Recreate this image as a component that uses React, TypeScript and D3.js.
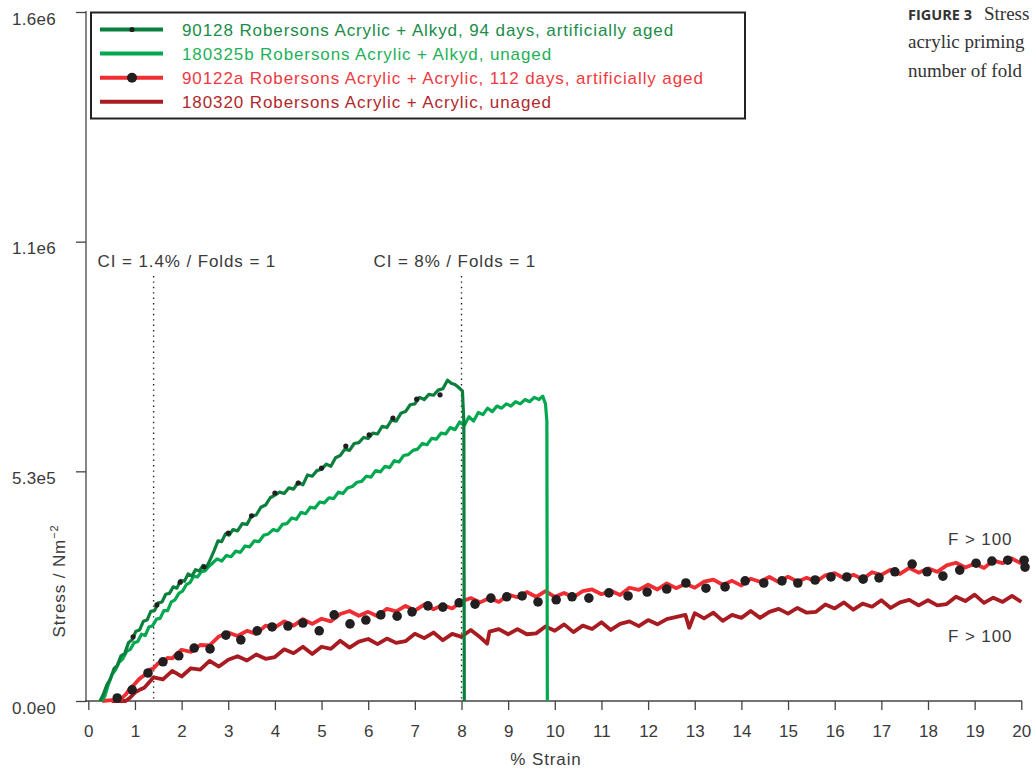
import { useEffect, useRef } from "react";
import * as d3 from "d3";

// strain in %, stress in units of 1e5 N/m^2
const agedAlkyd: [number, number][] = [
  [0.25, 0], [0.32, 0.15], [0.4, 0.38], [0.47, 0.5], [0.55, 0.75], [0.62, 0.82], [0.7, 1.05], [0.78, 1.1],
  [0.86, 1.35], [0.94, 1.42], [1.02, 1.62], [1.1, 1.65], [1.18, 1.85], [1.26, 1.88], [1.34, 2.08], [1.42, 2.1],
  [1.5, 2.28], [1.58, 2.3], [1.66, 2.48], [1.74, 2.5], [1.82, 2.65], [1.9, 2.62], [1.98, 2.8], [2.06, 2.78],
  [2.14, 2.95], [2.22, 2.9], [2.3, 3.05], [2.38, 3.02], [2.46, 3.15], [2.54, 3.12], [2.62, 3.3], [2.7, 3.5],
  [2.78, 3.72], [2.86, 3.7], [2.94, 3.88], [3.02, 3.85], [3.1, 3.98], [3.2, 3.95], [3.3, 4.12], [3.4, 4.1],
  [3.5, 4.3], [3.6, 4.32], [3.7, 4.5], [3.8, 4.55], [3.9, 4.72], [4.0, 4.78], [4.1, 4.85], [4.2, 4.82],
  [4.3, 4.95], [4.4, 4.92], [4.5, 5.08], [4.6, 5.02], [4.7, 5.25], [4.8, 5.22], [4.9, 5.35], [5.0, 5.38],
  [5.1, 5.5], [5.2, 5.45], [5.3, 5.65], [5.4, 5.7], [5.5, 5.85], [5.6, 5.82], [5.7, 5.98], [5.8, 6.0],
  [5.9, 6.12], [6.0, 6.1], [6.1, 6.22], [6.2, 6.2], [6.3, 6.38], [6.4, 6.35], [6.5, 6.52], [6.6, 6.5],
  [6.7, 6.68], [6.8, 6.72], [6.9, 6.88], [7.0, 6.9], [7.1, 7.05], [7.2, 7.0], [7.3, 7.12], [7.4, 7.1],
  [7.5, 7.22], [7.6, 7.25], [7.7, 7.45], [7.78, 7.38], [7.86, 7.35], [7.94, 7.28], [8.02, 7.2], [8.05, 6.5],
  [8.06, 0],
];
const agedAlkydDots: [number, number][] = [
  [0.96, 1.49], [1.47, 2.23], [1.97, 2.76], [2.48, 3.11], [3.0, 3.9], [3.5, 4.3], [4.0, 4.83],
  [4.5, 5.06], [5.0, 5.41], [5.52, 5.92], [6.02, 6.18], [6.53, 6.57], [7.04, 7.01], [7.54, 7.11],
];
const unagedAlkyd: [number, number][] = [
  [0.28, 0], [0.35, 0.1], [0.42, 0.35], [0.5, 0.6], [0.58, 0.72], [0.66, 0.9], [0.74, 0.98], [0.82, 1.15],
  [0.9, 1.2], [0.98, 1.35], [1.06, 1.38], [1.14, 1.55], [1.22, 1.52], [1.3, 1.72], [1.38, 1.75], [1.46, 1.9],
  [1.54, 1.92], [1.62, 2.1], [1.7, 2.1], [1.78, 2.3], [1.86, 2.35], [1.94, 2.5], [2.02, 2.55], [2.1, 2.7],
  [2.18, 2.75], [2.26, 2.9], [2.34, 2.88], [2.42, 3.0], [2.5, 3.02], [2.58, 3.12], [2.66, 3.2], [2.76, 3.3],
  [2.86, 3.25], [2.96, 3.38], [3.06, 3.35], [3.16, 3.48], [3.26, 3.45], [3.36, 3.6], [3.46, 3.58], [3.56, 3.72],
  [3.66, 3.7], [3.76, 3.85], [3.86, 3.88], [3.96, 3.98], [4.06, 3.95], [4.16, 4.1], [4.26, 4.12], [4.36, 4.25],
  [4.46, 4.22], [4.56, 4.38], [4.66, 4.35], [4.76, 4.5], [4.86, 4.48], [4.96, 4.62], [5.06, 4.6], [5.16, 4.72],
  [5.26, 4.7], [5.36, 4.85], [5.46, 4.82], [5.56, 4.95], [5.66, 4.98], [5.76, 5.08], [5.86, 5.1], [5.96, 5.22],
  [6.06, 5.2], [6.16, 5.35], [6.26, 5.32], [6.36, 5.45], [6.46, 5.42], [6.56, 5.58], [6.66, 5.55], [6.76, 5.7],
  [6.86, 5.72], [6.96, 5.82], [7.06, 5.85], [7.16, 5.98], [7.26, 5.95], [7.36, 6.1], [7.46, 6.08], [7.56, 6.22],
  [7.66, 6.2], [7.76, 6.35], [7.86, 6.3], [7.96, 6.48], [8.06, 6.4], [8.16, 6.6], [8.26, 6.5], [8.36, 6.7],
  [8.46, 6.65], [8.56, 6.8], [8.66, 6.72], [8.76, 6.85], [8.86, 6.8], [8.96, 6.9], [9.06, 6.85], [9.16, 6.95],
  [9.26, 6.9], [9.36, 7.0], [9.46, 6.95], [9.56, 7.05], [9.66, 7.0], [9.74, 7.08], [9.8, 6.9], [9.83, 6.5],
  [9.84, 0],
];
const agedAcrylic: [number, number][] = [
  [0.3, 0], [0.5, 0.02], [0.7, 0.04], [0.8, 0.15], [0.9, 0.3], [1.0, 0.4], [1.1, 0.52], [1.2, 0.6],
  [1.3, 0.72], [1.4, 0.76], [1.5, 0.88], [1.6, 0.9], [1.7, 1.0], [1.8, 0.99], [1.9, 1.1],
  [2.0, 1.19], [2.2, 1.14], [2.4, 1.3], [2.6, 1.29], [2.8, 1.5], [3.0, 1.59], [3.2, 1.51], [3.4, 1.63],
  [3.6, 1.56], [3.8, 1.75], [4.0, 1.71], [4.2, 1.85], [4.4, 1.75], [4.6, 1.9], [4.8, 1.79], [5.0, 1.91],
  [5.2, 1.85], [5.4, 2.02], [5.6, 2.09], [5.8, 1.98], [6.0, 2.07], [6.2, 1.97], [6.4, 2.14], [6.6, 2.08],
  [6.8, 2.21], [7.0, 2.1], [7.2, 2.24], [7.4, 2.13], [7.6, 2.23], [7.8, 2.15], [8.0, 2.31], [8.2, 2.39],
  [8.4, 2.29], [8.6, 2.39], [8.8, 2.3], [9.0, 2.47], [9.2, 2.41], [9.4, 2.53], [9.6, 2.42], [9.8, 2.55],
  [10.0, 2.42], [10.2, 2.51], [10.4, 2.41], [10.6, 2.55], [10.8, 2.59], [11.0, 2.48], [11.2, 2.56], [11.4, 2.46],
  [11.6, 2.63], [11.8, 2.58], [12.0, 2.7], [12.2, 2.59], [12.4, 2.73], [12.6, 2.62], [12.8, 2.72], [13.0, 2.63],
  [13.2, 2.77], [13.4, 2.82], [13.6, 2.7], [13.8, 2.79], [14.0, 2.68], [14.2, 2.84], [14.4, 2.77], [14.6, 2.88],
  [14.8, 2.76], [15.0, 2.89], [15.2, 2.77], [15.4, 2.86], [15.6, 2.77], [15.8, 2.92], [16.0, 2.97], [16.2, 2.85],
  [16.4, 2.93], [16.6, 2.83], [16.8, 2.99], [17.0, 2.93], [17.2, 3.05], [17.4, 2.95], [17.6, 3.09], [17.8, 2.98],
  [18.0, 3.08], [18.2, 3.0], [18.4, 3.15], [18.6, 3.21], [18.8, 3.1], [19.0, 3.19], [19.2, 3.09], [19.4, 3.26],
  [19.6, 3.2], [19.8, 3.31], [20.0, 3.19],
];
const agedAcrylicDots: [number, number][] = [
  [0.62, 0.07], [0.94, 0.26], [1.28, 0.65], [1.6, 0.91], [1.94, 1.05], [2.27, 1.23], [2.61, 1.21], [2.95, 1.53],
  [3.27, 1.42], [3.62, 1.63], [3.94, 1.72], [4.28, 1.74], [4.6, 1.81], [4.95, 1.63], [5.27, 2.0], [5.61, 1.79],
  [5.95, 1.88], [6.27, 2.0], [6.62, 1.97], [6.94, 2.07], [7.28, 2.21], [7.6, 2.18], [7.95, 2.28], [8.29, 2.25],
  [8.63, 2.39], [8.97, 2.42], [9.3, 2.44], [9.64, 2.3], [10.03, 2.35], [10.37, 2.42], [10.73, 2.39], [11.16, 2.51],
  [11.57, 2.44], [11.98, 2.53], [12.4, 2.6], [12.81, 2.74], [13.24, 2.62], [13.65, 2.65], [14.08, 2.79], [14.48, 2.74],
  [14.87, 2.79], [15.21, 2.74], [15.58, 2.81], [15.92, 2.88], [16.26, 2.88], [16.61, 2.83], [16.95, 2.86], [17.29, 3.0],
  [17.66, 3.18], [17.98, 3.0], [18.32, 2.9], [18.68, 3.04], [19.03, 3.2], [19.37, 3.25], [19.71, 3.27], [20.06, 3.27],
  [20.08, 3.11],
];
const unagedAcrylic: [number, number][] = [
  [0.5, 0], [0.8, 0], [0.9, 0.08], [1.0, 0.2], [1.1, 0.26], [1.2, 0.31], [1.4, 0.55], [1.6, 0.5],
  [1.8, 0.7], [2.0, 0.57], [2.2, 0.76], [2.4, 0.73], [2.6, 0.93], [2.8, 0.8], [3.0, 0.96], [3.2, 1.04],
  [3.4, 0.94], [3.6, 1.08], [3.8, 0.98], [4.0, 1.02], [4.2, 1.2], [4.4, 1.11], [4.6, 1.26], [4.8, 1.09],
  [5.0, 1.26], [5.2, 1.21], [5.4, 1.4], [5.6, 1.24], [5.8, 1.38], [6.0, 1.44], [6.2, 1.32], [6.4, 1.45],
  [6.6, 1.35], [6.8, 1.39], [7.0, 1.56], [7.2, 1.46], [7.4, 1.59], [7.6, 1.41], [7.8, 1.56], [8.0, 1.49],
  [8.2, 1.65], [8.4, 1.48], [8.55, 1.33], [8.6, 1.61], [8.8, 1.67], [9.0, 1.55], [9.2, 1.67], [9.4, 1.55],
  [9.6, 1.57], [9.8, 1.73], [10.0, 1.63], [10.2, 1.78], [10.4, 1.6], [10.6, 1.75], [10.8, 1.67], [11.0, 1.83],
  [11.2, 1.65], [11.4, 1.79], [11.6, 1.85], [11.8, 1.74], [12.0, 1.88], [12.2, 1.78], [12.4, 1.9], [12.8, 2.0],
  [12.88, 1.7], [13.0, 2.04], [13.2, 1.92], [13.4, 2.05], [13.6, 1.86], [13.8, 2.0], [14.0, 1.93], [14.2, 2.09],
  [14.4, 1.93], [14.6, 2.07], [14.8, 2.14], [15.0, 2.03], [15.2, 2.16], [15.4, 2.05], [15.6, 2.07], [15.8, 2.24],
  [16.0, 2.15], [16.2, 2.29], [16.4, 2.12], [16.6, 2.26], [16.8, 2.19], [17.0, 2.34], [17.2, 2.16], [17.4, 2.29],
  [17.6, 2.35], [17.8, 2.22], [18.0, 2.34], [18.2, 2.22], [18.4, 2.25], [18.6, 2.42], [18.8, 2.32], [19.0, 2.47],
  [19.2, 2.28], [19.4, 2.4], [19.6, 2.3], [19.8, 2.44], [20.0, 2.3],
];

const xTicks = [0, 1, 2, 3, 4, 5, 6, 7, 8, 9, 10, 11, 12, 13, 14, 15, 16, 17, 18, 19, 20];
const yTicks = [0, 16 / 3, 32 / 3, 16];
const yTickLabels = ["0.0e0", "5.3e5", "1.1e6", "1.6e6"];

const crackLines = [
  { strain: 1.4, label: "CI = 1.4% / Folds = 1" },
  { strain: 8, label: "CI = 8% / Folds = 1" },
];

const legendItems = [
  { label: "90128 Robersons Acrylic + Alkyd, 94 days, artificially aged", color: "#0b7f3c", text: "#1a8c48", dot: 2.6 },
  { label: "180325b Robersons Acrylic + Alkyd, unaged", color: "#00a94f", text: "#1fb159", dot: 0 },
  { label: "90122a Robersons Acrylic + Acrylic, 112 days, artificially aged", color: "#ee2e33", text: "#ee3a40", dot: 5 },
  { label: "180320 Robersons Acrylic + Acrylic, unaged", color: "#a81c21", text: "#b0292e", dot: 0 },
];

const FONT = "'Liberation Sans', Arial, Helvetica, sans-serif";
const SERIF = "'Liberation Serif', 'DejaVu Serif', serif";
const INK = "#3a3a3a";
const TRACK = 0.9; // the original sans face runs wider than Arial

export default function App() {
  const svgRef = useRef<SVGSVGElement>(null);

  useEffect(() => {
    const svg = d3.select(svgRef.current);
    svg.selectAll("*").remove();

    const x = d3.scaleLinear().domain([0, 20]).range([88.3, 1021.3]);
    const y = d3.scaleLinear().domain([0, 16]).range([701, 12]);

    const label = (sel: any, track = TRACK) =>
      sel.attr("font-family", FONT).attr("font-size", 17).attr("fill", INK)
        .attr("letter-spacing", track);

    // ---------- AXES ----------
    const ax = svg.append("g").attr("transform", `translate(0,701)`);
    ax.call(d3.axisBottom(x).tickValues(xTicks).tickSize(9).tickSizeOuter(0).tickFormat(d3.format("d")));
    ax.select(".domain").remove();
    ax.selectAll("line").attr("stroke", "#444").attr("stroke-width", 1.3);
    label(ax.selectAll("text").attr("y", 36).attr("dy", 0), 0);
    svg.append("line")
      .attr("x1", 85).attr("x2", 1022).attr("y1", 701).attr("y2", 701)
      .attr("stroke", "#444").attr("stroke-width", 1.3);

    const ay = svg.append("g").attr("transform", `translate(86,0)`);
    ay.call(d3.axisLeft(y).tickValues(yTicks).tickSize(10).tickSizeOuter(0)
      .tickFormat((_d, i) => yTickLabels[i]));
    ay.select(".domain").remove();
    ay.selectAll("line").attr("stroke", "#444").attr("stroke-width", 1.3);
    label(ay.selectAll("text").attr("x", -30).attr("y", 12).attr("dy", 0), 0.3);
    svg.append("line")
      .attr("x1", 86).attr("x2", 86).attr("y1", 11).attr("y2", 702)
      .attr("stroke", "#444").attr("stroke-width", 1.3);

    label(svg.append("text")
      .attr("x", 546).attr("y", 765).attr("text-anchor", "middle"))
      .text("% Strain");

    const yl = label(svg.append("text")
      .attr("transform", "translate(65,581) rotate(-90)")
      .attr("text-anchor", "middle"));
    yl.append("tspan").text("Stress / Nm");
    yl.append("tspan").attr("dy", -7).attr("font-size", 11).text("−2");

    // ---------- CRACK INITIATION MARKERS ----------
    const labelShift: Record<number, number> = { 1.4: -56, 8: -88 };
    crackLines.forEach(c => {
      svg.append("line")
        .attr("x1", x(c.strain)).attr("x2", x(c.strain))
        .attr("y1", 276).attr("y2", 700)
        .attr("stroke", "#222").attr("stroke-width", 1.4)
        .attr("stroke-dasharray", "1.4 4");
      label(svg.append("text")
        .attr("x", x(c.strain) + labelShift[c.strain])
        .attr("y", 267))
        .text(c.label);
    });

    // ---------- CURVES ----------
    const line = d3.line<[number, number]>()
      .x(d => x(d[0]))
      .y(d => y(d[1]));

    const drawCurve = (data: [number, number][], color: string, w: number) =>
      svg.append("path")
        .datum(data)
        .attr("d", line)
        .attr("fill", "none")
        .attr("stroke", color)
        .attr("stroke-width", w)
        .attr("stroke-linejoin", "round");

    const drawDots = (data: [number, number][], r: number) =>
      svg.append("g").selectAll("circle")
        .data(data)
        .join("circle")
        .attr("cx", d => x(d[0]))
        .attr("cy", d => y(d[1]))
        .attr("r", r)
        .attr("fill", "#231f20");

    drawCurve(unagedAcrylic, legendItems[3].color, 3.8);
    drawCurve(agedAcrylic, legendItems[2].color, 3.8);
    drawDots(agedAcrylicDots, 4.8);
    drawCurve(unagedAlkyd, legendItems[1].color, 3.2);
    drawCurve(agedAlkyd, legendItems[0].color, 3.2);
    drawDots(agedAlkydDots, 2.6);

    // F > 100 labels
    [545, 642].forEach(yy => {
      label(svg.append("text").attr("x", 948).attr("y", yy)).text("F > 100");
    });

    // ---------- LEGEND ----------
    const lg = svg.append("g");
    lg.append("rect")
      .attr("x", 91).attr("y", 12.5).attr("width", 654).attr("height", 106)
      .attr("fill", "white").attr("stroke", "#222").attr("stroke-width", 2);
    legendItems.forEach((it, i) => {
      const cy = 29.5 + i * 24.1;
      lg.append("line")
        .attr("x1", 100).attr("x2", 163).attr("y1", cy).attr("y2", cy)
        .attr("stroke", it.color).attr("stroke-width", 4);
      if (it.dot) {
        lg.append("circle").attr("cx", 132).attr("cy", cy).attr("r", it.dot).attr("fill", "#231f20");
      }
      label(lg.append("text").attr("x", 182).attr("y", cy + 6))
        .attr("fill", it.text)
        .text(it.label);
    });

    // ---------- CAPTION (only the part visible on the page) ----------
    const cap = svg.append("g").attr("font-family", SERIF).attr("font-size", 19).attr("fill", "#333");
    const t1 = cap.append("text").attr("x", 908).attr("y", 20);
    t1.append("tspan")
      .attr("font-family", "'Open Sans', 'Noto Sans', sans-serif")
      .attr("font-weight", 700).attr("font-size", 14.5).text("FIGURE 3");
    t1.append("tspan").attr("x", 984).text("Stress");
    cap.append("text").attr("x", 908).attr("y", 48).text("acrylic priming");
    cap.append("text").attr("x", 908).attr("y", 77).text("number of fold");
  }, []);

  return (
    <svg
      ref={svgRef}
      width={1034}
      height={769}
      style={{ position: "absolute", left: 0, top: 0, background: "white", overflow: "hidden" }}
    />
  );
}
